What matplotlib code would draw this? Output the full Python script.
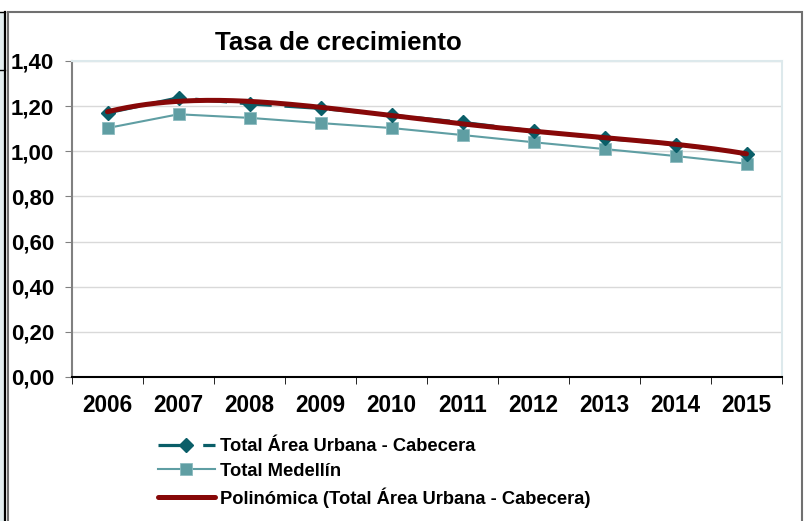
import numpy as np
import matplotlib
matplotlib.use("Agg")
import matplotlib.pyplot as plt
from matplotlib.patches import Rectangle
from matplotlib.ticker import FuncFormatter

plt.rcParams['font.family'] = ['Liberation Sans', 'DejaVu Sans']
plt.rcParams['font.weight'] = 'bold'

years = ['2006', '2007', '2008', '2009', '2010', '2011', '2012', '2013', '2014', '2015']
urbana = [1.17, 1.237, 1.21, 1.19, 1.16, 1.128, 1.09, 1.057, 1.03, 0.99]
medellin = [1.103, 1.164, 1.148, 1.125, 1.103, 1.072, 1.040, 1.010, 0.979, 0.945]

W, H = 807, 521
fig = plt.figure(figsize=(W / 100, H / 100), dpi=100)

# spreadsheet leftovers + chart border
fig.patches.append(Rectangle((0, 0), 4 / W, 1 - 12 / H, transform=fig.transFigure,
                             facecolor='#E3EEF0', edgecolor='none', zorder=0))
fig.lines.append(plt.Line2D([5 / W, 5 / W], [0, 1 - 12 / H], transform=fig.transFigure,
                            color='black', lw=1.6))
for yy in (12, 70):
    fig.lines.append(plt.Line2D([0, 5 / W], [1 - yy / H, 1 - yy / H], transform=fig.transFigure,
                                color='black', lw=1))
fig.patches.append(Rectangle((8 / W, -0.05), (802 - 8) / W, 1.05 - 12 / H,
                             transform=fig.transFigure, facecolor='none',
                             edgecolor='#707070', lw=1.5))

ax = fig.add_axes([72 / W, 1 - 377 / H, 710 / W, 316 / H])
x = np.arange(len(years))

ax.plot(x, urbana, color='#0A5E68', lw=2.3, dashes=(10, 4), marker='D', markersize=7,
        markerfacecolor='#0A5E68', markeredgecolor='#0A5E68',
        label='Total Área Urbana - Cabecera', zorder=3)
ax.plot(x, medellin, color='#5F9EA3', lw=1.5, marker='s', markersize=9,
        markerfacecolor='#5F9EA3', markeredgecolor='#8DBCC0', markeredgewidth=0.6,
        label='Total Medellín', zorder=2)

# Excel-style polynomial trendline
coef = np.polyfit(x, urbana, 4)
xs = np.linspace(0, len(years) - 1, 200)
ax.plot(xs, np.polyval(coef, xs), color='#870808', lw=3.6, solid_capstyle='round',
        label='Polinómica (Total Área Urbana - Cabecera)', zorder=4)

ax.set_xlim(-0.5, len(years) - 0.5)
ax.set_ylim(0, 1.4)
ax.set_yticks(np.arange(0, 1.41, 0.2))
ax.yaxis.set_major_formatter(FuncFormatter(lambda v, p: f'{v:.2f}'.replace('.', ',')))
ax.grid(axis='y', color='#D9D9D9', lw=1)
ax.set_axisbelow(True)

ax.set_xticks(x)
ax.set_xticklabels(years)
ax.set_xticks(np.arange(-0.5, len(years)), minor=True)
ax.tick_params(axis='x', which='major', length=0, pad=12, labelsize=16.3)
ax.tick_params(axis='x', which='minor', length=5, direction='out', color='black')
ax.tick_params(axis='y', length=5, direction='out', color='#808080', pad=8, labelsize=16)

ax.spines['left'].set_color('#808080')
ax.spines['bottom'].set_color('black')
ax.spines['top'].set_color('#DDE9EC')
ax.spines['right'].set_color('#DDE9EC')
for s in ax.spines.values():
    s.set_linewidth(1.5)

fig.text(338 / W, 1 - 43 / H, 'Tasa de crecimiento', ha='center', va='center',
         fontsize=18.6, fontweight='bold')

fig.legend(loc='upper left', bbox_to_anchor=(158 / W, 1 - 438 / H), frameon=False,
           fontsize=13.2, handlelength=3.1, handletextpad=0.27, labelspacing=0.42,
           borderpad=0, borderaxespad=0)

fig.savefig('out.png', dpi=100)
